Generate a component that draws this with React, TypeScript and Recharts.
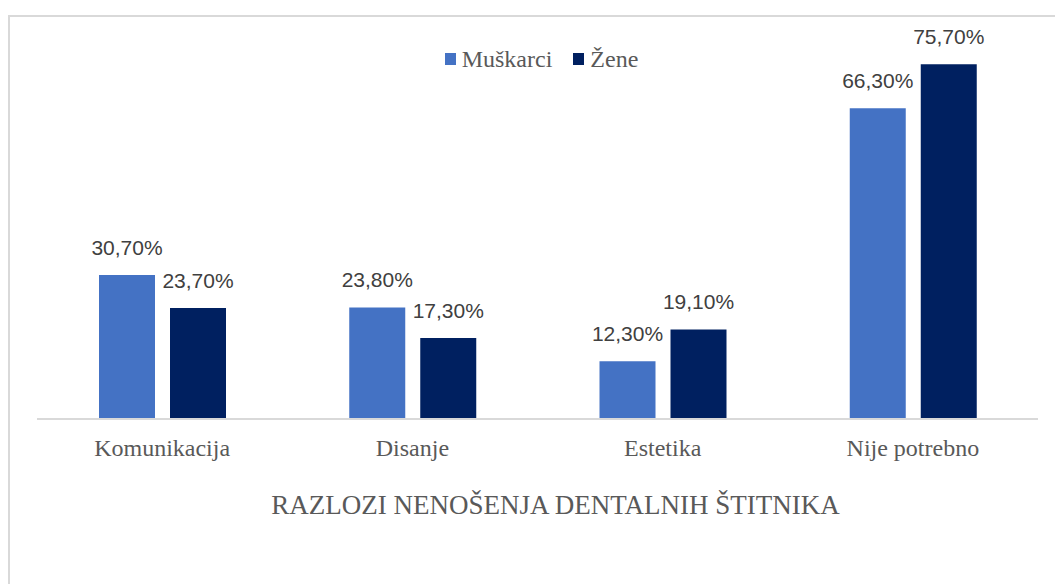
import { BarChart, Bar, XAxis, YAxis, LabelList, Label } from "recharts";

const categories = ["Komunikacija", "Disanje", "Estetika", "Nije potrebno"];
const muskarci = [30.7, 23.8, 12.3, 66.3];
const zene = [23.7, 17.3, 19.1, 75.7];
const seriesNames = ["Muškarci", "Žene"];
const title = "RAZLOZI NENOŠENJA DENTALNIH ŠTITNIKA";

const colors = ["#4472c4", "#002060"];
const serif = "'Liberation Serif', 'Times New Roman', serif";
const sans = "'Liberation Sans', Arial, sans-serif";

const data = categories.map((name, i) => ({ name, m: muskarci[i], z: zene[i] }));

const fmt = (v: any) => `${Number(v).toFixed(2).replace(".", ",")}%`;

function LegendBox() {
  return (
    <div
      style={{
        display: "flex",
        justifyContent: "center",
        gap: 21,
        paddingLeft: 28,
        fontFamily: serif,
        fontSize: 24,
        color: "#595959",
        lineHeight: "28px",
      }}
    >
      {seriesNames.map((s, i) => (
        <div key={s} style={{ display: "flex", alignItems: "center" }}>
          <span style={{ display: "inline-block", width: 11, height: 12, background: colors[i], marginRight: 6 }} />
          <span>{s}</span>
        </div>
      ))}
    </div>
  );
}

export default function App() {
  return (
    <div style={{ position: "absolute", left: 0, top: 0, width: 1055, height: 584, background: "#fff", overflow: "hidden" }}>
      <div
        style={{
          position: "absolute",
          left: 8,
          top: 15,
          width: 1100,
          height: 600,
          borderTop: "2px solid #d9d9d9",
          borderLeft: "2px solid #d9d9d9",
        }}
      />
      <div style={{ position: "absolute", left: 0, top: 0 }}>
        <BarChart width={1055} height={584} data={data} margin={{ top: 44, right: 17, bottom: 0, left: 37 }} barGap={15}>
          <YAxis hide domain={[0, 80]} />
          <XAxis
            dataKey="name"
            height={165}
            axisLine={{ stroke: "#d9d9d9", strokeWidth: 2 }}
            tickLine={false}
            tickSize={0}
            tickMargin={20}
            tick={{ fontFamily: serif, fontSize: 24, fill: "#595959" }}
          >
            <Label
              value={title}
              position="insideBottom"
              offset={70}
              dx={18}
              style={{ fontFamily: serif, fontSize: 27, fill: "#595959" }}
            />
          </XAxis>
          <Bar dataKey="m" name={seriesNames[0]} fill={colors[0]} barSize={56} isAnimationActive={false}>
            <LabelList dataKey="m" position="top" offset={20} formatter={fmt} style={{ fontFamily: sans, fontSize: 21, fill: "#404040" }} />
          </Bar>
          <Bar dataKey="z" name={seriesNames[1]} fill={colors[1]} barSize={56} isAnimationActive={false}>
            <LabelList dataKey="z" position="top" offset={20} formatter={fmt} style={{ fontFamily: sans, fontSize: 21, fill: "#404040" }} />
          </Bar>
        </BarChart>
      </div>
      <div style={{ position: "absolute", left: 0, top: 45, width: 1055 }}>
        <LegendBox />
      </div>
    </div>
  );
}
